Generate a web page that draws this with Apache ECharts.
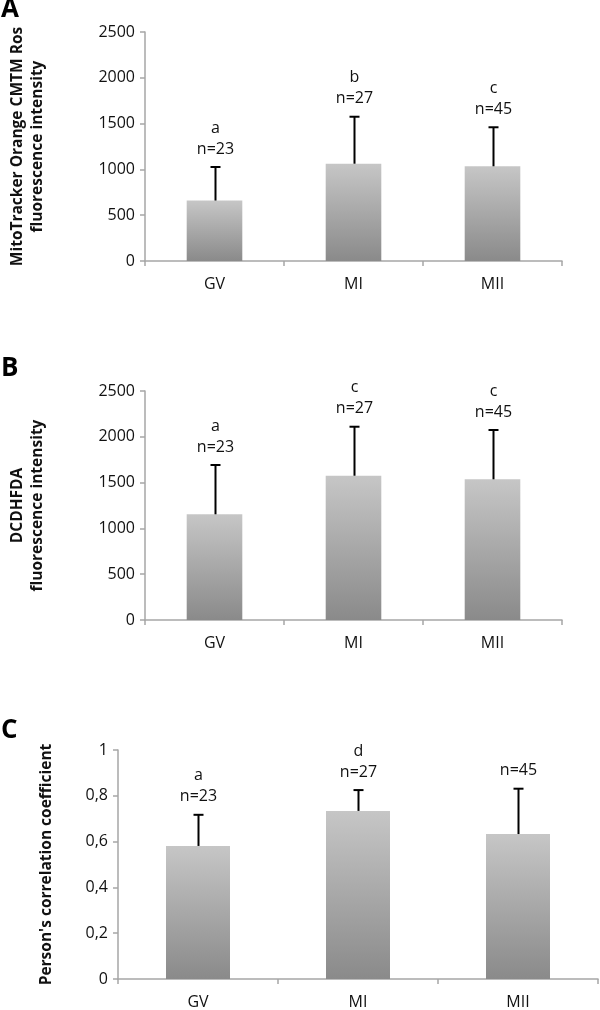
<!DOCTYPE html>
<html><head><meta charset="utf-8">
<script src="https://cdn.jsdelivr.net/npm/echarts@6/dist/echarts.min.js"></script>
<style>html,body{margin:0;padding:0;background:#fff}#c{width:600px;height:1010px}</style>
</head><body><div id="c"></div>
<script>
const categories = ['GV', 'MI', 'MII'];
// Panel A
const meanA = [660, 1062, 1034];
const errTopA = [1026, 1575, 1460];
const letterA = ['a', 'b', 'c'];
const nA = ['n=23', 'n=27', 'n=45'];
// Panel B
const meanB = [1154, 1575, 1536];
const errTopB = [1692, 2110, 2074];
const letterB = ['a', 'c', 'c'];
const nB = ['n=23', 'n=27', 'n=45'];
// Panel C
const meanC = [0.581, 0.734, 0.633];
const errTopC = [0.717, 0.825, 0.831];
const letterC = ['a', 'd', ''];
const nC = ['n=23', 'n=27', 'n=45'];

const titles = ['MitoTracker Orange CMTM Ros\nfluorescence intensity', 'DCDHFDA\nfluorescence intensity', "Person's correlation coefficient"];
const panelLetters = ['A', 'B', 'C'];

const FONT = '"Open Sans", "Liberation Sans", sans-serif';
const chart = echarts.init(document.getElementById('c'));

const grids = [
  {left: 117, right: 38, top: 32, height: 229},
  {left: 117, right: 38, top: 391, height: 229},
  {left: 118, right: 2, top: 750, height: 229}
];
const yCfg = [
  {max: 2500, interval: 500, fmt: v => String(v), gap: 97},
  {max: 2500, interval: 500, fmt: v => String(v), gap: 97},
  {max: 1, interval: 0.2, fmt: v => (v === 0 || v === 1) ? String(v) : v.toFixed(1).replace('.', ','), gap: 61}
];
const means = [meanA, meanB, meanC];
const errs = [errTopA, errTopB, errTopC];
const letters = [letterA, letterB, letterC];
const ns = [nA, nB, nC];

const axisLine = {lineStyle: {color: '#a6a6a6', width: 1.5}};
const xAxes = [], yAxes = [], series = [];
for (let i = 0; i < 3; i++) {
  xAxes.push({
    type: 'category', gridIndex: i, data: categories,
    axisLine: axisLine,
    axisTick: {show: true, length: 5, lineStyle: {color: '#a6a6a6', width: 1.5}},
    axisLabel: {color: '#111', fontFamily: FONT, fontSize: 16, margin: 15}
  });
  yAxes.push({
    type: 'value', gridIndex: i, min: 0, max: yCfg[i].max, interval: yCfg[i].interval,
    splitLine: {show: false},
    axisLine: {show: true, lineStyle: {color: '#a6a6a6', width: 1.5}},
    axisTick: {show: true, length: 5, lineStyle: {color: '#a6a6a6', width: 1.5}},
    axisLabel: {color: '#111', fontFamily: FONT, fontSize: 16, margin: 10, formatter: yCfg[i].fmt},
    name: titles[i], nameLocation: 'middle', nameRotate: 90, nameGap: yCfg[i].gap,
    nameTextStyle: {fontFamily: FONT, fontWeight: 'bold', fontSize: 15.5, color: '#111', lineHeight: 20}
  });
  series.push({
    type: 'bar', xAxisIndex: i, yAxisIndex: i, data: means[i], barWidth: '40%',
    itemStyle: {color: new echarts.graphic.LinearGradient(0, 0, 0, 1, [
      {offset: 0, color: '#c6c6c6'}, {offset: 1, color: '#8a8a8a'}])}
  });
  const m = means[i], e = errs[i], L = letters[i], N = ns[i];
  series.push({
    type: 'custom', xAxisIndex: i, yAxisIndex: i,
    data: categories.map((c, k) => [k, m[k], e[k]]),
    z: 5,
    renderItem: function (params, api) {
      const k = api.value(0);
      const p0 = api.coord([k, api.value(1)]);
      const p1 = api.coord([k, api.value(2)]);
      const x = Math.round(p0[0]) + 0.5;
      return {
        type: 'group', children: [
          {type: 'line', shape: {x1: x, y1: p0[1], x2: x, y2: p1[1]}, style: {stroke: '#000', lineWidth: 2}},
          {type: 'line', shape: {x1: x - 5, y1: p1[1], x2: x + 5, y2: p1[1]}, style: {stroke: '#000', lineWidth: 2}},
          {type: 'text', x: x, y: p1[1] - 18, style: {text: N[k], fill: '#111', font: '16px ' + FONT, align: 'center', verticalAlign: 'middle'}},
          {type: 'text', x: x, y: p1[1] - 39, style: {text: L[k], fill: '#111', font: '16px ' + FONT, align: 'center', verticalAlign: 'middle'}}
        ]
      };
    }
  });
}

const letterY = [12, 371, 733];
const graphic = panelLetters.map((t, i) => ({
  type: 'text', left: 1, top: letterY[i] - 15,
  style: {text: t, font: 'bold 26px ' + FONT, fill: '#000'}
}));

chart.setOption({
  animation: false,
  grid: grids,
  xAxis: xAxes,
  yAxis: yAxes,
  series: series,
  graphic: graphic
});
</script></body></html>
